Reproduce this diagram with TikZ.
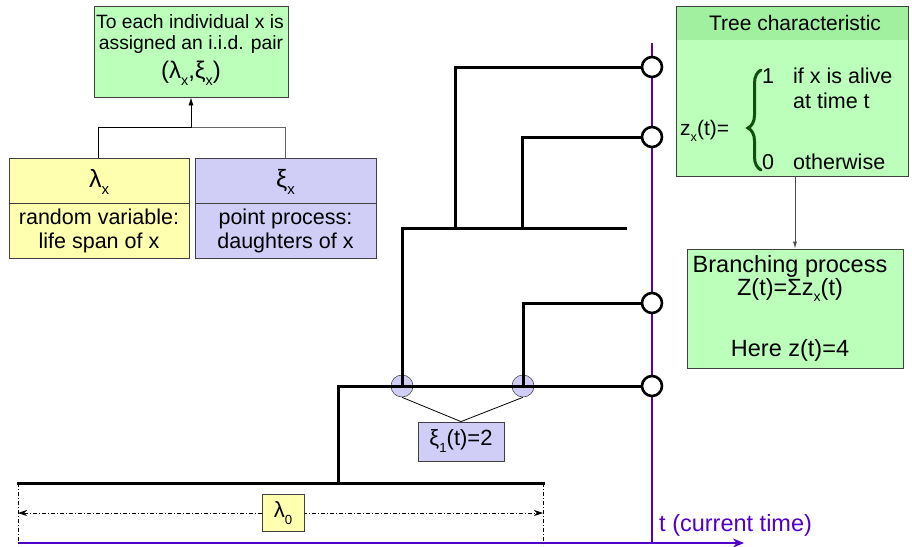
\documentclass[tikz,border=0pt]{standalone}
\usepackage{fontspec}
\setmainfont{Liberation Sans}
\usetikzlibrary{arrows.meta,decorations.pathreplacing}
\newcommand\subs[1]{\raisebox{-0.55ex}{\scalebox{0.6}{#1}}}
\definecolor{boxgreen}{RGB}{187,255,187}
\definecolor{headgreen}{RGB}{160,240,160}
\definecolor{boxyellow}{RGB}{255,255,176}
\definecolor{boxpurple}{RGB}{208,206,247}
\definecolor{axispurple}{RGB}{80,0,200}
\definecolor{bracegreen}{RGB}{15,80,15}
\tikzset{
  fbox/.style={draw=black!75, line width=0.8pt, inner sep=0pt},
  txt/.style={inner sep=0pt, font=\fontsize{19}{23}\selectfont, align=center},
  branch/.style={line width=3pt, line cap=rect},
  tip/.style={draw=black, line width=2.6pt, fill=white, circle, minimum size=20pt, inner sep=0pt},
  birth/.style={draw=black!70, line width=0.6pt, fill=boxpurple, circle, minimum size=22pt, inner sep=0pt},
  thin/.style={line width=0.8pt},
  dimline/.style={line width=0.7pt, dash pattern=on 4pt off 2pt on 1pt off 2pt}
}
\begin{document}
\begin{tikzpicture}[x=1pt,y=-1pt]
\useasboundingbox (0,0) rectangle (912,546);
% ---- top left boxes
\node[fbox, fill=boxgreen, minimum width=194pt, minimum height=91pt] (pair) at (191,51.5) {};
\node[txt, font=\fontsize{19.3}{22}\selectfont] (pairt1) at (190,22) {To each individual x is};
\node[txt, font=\fontsize{19.3}{22}\selectfont] (pairt2) at (191,45) {assigned an i.i.d. pair};
\node[txt, font=\fontsize{24}{24}\selectfont] (pairt3) at (191,73) {(λ\subs{x},ξ\subs{x})};

\node[fbox, fill=boxyellow, minimum width=180pt, minimum height=100pt] (lam) at (99,208) {};
\draw[black!75, line width=0.8pt] (9,203) -- (189,203);
\node[txt, font=\fontsize{25}{24}\selectfont] (lamt) at (99,182) {λ\subs{x}};
\node[txt, font=\fontsize{21.5}{24}\selectfont] (lamb) at (99,230.5) {random variable:\\life span of x};

\node[fbox, fill=boxpurple, minimum width=181pt, minimum height=100pt] (xi) at (285.5,208) {};
\draw[black!75, line width=0.8pt] (195,203) -- (376,203);
\node[txt, font=\fontsize{25}{24}\selectfont] (xit) at (285.5,182) {ξ\subs{x}};
\node[txt, font=\fontsize{21.5}{24}\selectfont] (xib) at (285.5,230.5) {point process:\\daughters of x};

\coordinate (jl) at (98.5,127.5);
\coordinate (jr) at (285,127.5);
\coordinate (jm) at (191,127.5);
\draw[thin] (lam.north -| jl) -- (jl) -- (jm);
\draw[thin, black!60] (jm) -- (jr) -- (xi.north -| jr);
\draw[thin, -{Latex[length=8pt,width=5pt]}] (jm) -- (pair.south);

% ---- axes
\coordinate (ax0) at (18,543);
\coordinate (ax1) at (744,543);
\coordinate (vt) at (652,43);
\coordinate (vb) at (652,543);
\draw[axispurple, line width=2.4pt, -{Stealth[length=11pt,width=9pt]}] (ax0) -- (ax1);
\draw[axispurple, line width=2.4pt] (vt) -- (vb);
\node[anchor=base west, inner sep=0pt, text=axispurple, font=\fontsize{23.5}{24}\selectfont] (tlab) at (659,531) {t (current time)};

% ---- tree
\coordinate (r0) at (18,483);
\coordinate (r1) at (543,483);
\coordinate (s1) at (338,483);
\coordinate (s1t) at (338,386);
\node[tip] (c4) at (652,386) {};
\node[tip] (c3) at (652,303) {};
\node[tip] (c2) at (652,137) {};
\node[tip] (c1) at (652,67) {};
\coordinate (b1) at (402,386);
\coordinate (b2) at (523,386);
\coordinate (g1) at (402,228);
\coordinate (g2) at (625,228);
\coordinate (h1) at (455,228);
\coordinate (h1t) at (455,67);
\coordinate (h2) at (522,228);
\coordinate (h2t) at (522,137);
\coordinate (k1t) at (523,303);

\draw[dimline] (r0) -- (18,546);
\draw[dimline] (r1) -- (543,546);
\draw[dimline, {Stealth[length=9pt,width=6pt]}-{Stealth[length=9pt,width=6pt]}] (18,513) -- (543,513);
\node[fbox, fill=boxyellow, minimum width=42pt, minimum height=37pt] (lam0) at (283,513) {};
\node[txt, font=\fontsize{22}{24}\selectfont] (lam0t) at (283,513) {λ\subs{0}};

\node[birth] (bc1) at (b1) {};
\node[birth] (bc2) at (b2) {};

\draw[branch] (r0) -- (r1);
\draw[branch] (s1) -- (s1t) -- (c4.west);
\draw[branch] (b1) -- (g1) -- (g2);
\draw[branch] (h1) -- (h1t) -- (c1.west);
\draw[branch] (h2) -- (h2t) -- (c2.west);
\draw[branch] (b2) -- (k1t) -- (c3.west);

\node[fbox, fill=boxpurple, minimum width=86pt, minimum height=39pt] (xi1) at (461,441.5) {};
\node[txt, font=\fontsize{22}{24}\selectfont] (xi1t) at (461,441) {ξ\subs{1}(t)=2};
\draw[thin] (bc1.south) -- (xi1.north);
\draw[thin] (bc2.south) -- (xi1.north);

% ---- right boxes
\node[fbox, fill=boxgreen, minimum width=232pt, minimum height=170pt] (tree) at (792,91) {};
\fill[headgreen] (676.4,6.4) rectangle (907.6,40);
\draw[black!75, line width=0.8pt] (676,6) rectangle (908,176);
\node[txt, font=\fontsize{21}{22}\selectfont] (treeh) at (795,23) {Tree characteristic};
\node[anchor=base west, inner sep=0pt, font=\fontsize{21}{22}\selectfont] (zx) at (680,135) {z\subs{x}(t)=};
\draw[bracegreen, line width=3pt, line cap=round, decorate, decoration={brace, amplitude=13pt, aspect=0.42}] (761,170) -- (761,70);
\node[anchor=base west, inner sep=0pt, font=\fontsize{21.5}{22}\selectfont] (one) at (762,83) {1};
\node[anchor=base west, inner sep=0pt, font=\fontsize{21.5}{22}\selectfont] (alive1) at (793,83) {if x is alive};
\node[anchor=base west, inner sep=0pt, font=\fontsize{21.5}{22}\selectfont] (alive2) at (793,108) {at time t};
\node[anchor=base west, inner sep=0pt, font=\fontsize{21.5}{22}\selectfont] (zero) at (762,169) {0};
\node[anchor=base west, inner sep=0pt, font=\fontsize{21.5}{22}\selectfont] (oth) at (793,169) {otherwise};

\node[fbox, fill=boxgreen, minimum width=216pt, minimum height=119pt] (bp) at (795,308.5) {};
\node[txt, font=\fontsize{23.5}{24}\selectfont] (bp1) at (790,266) {Branching process};
\node[txt, font=\fontsize{23.5}{24}\selectfont] (bp2) at (790,290) {Z(t)=Σz\subs{x}(t)};
\node[txt, font=\fontsize{23.5}{24}\selectfont] (bp3) at (790,350) {Here z(t)=4};
\draw[thin, black!70, -{Latex[length=7pt,width=4pt]}] (tree.south -| 795,0) -- (bp.north -| 795,0);
\end{tikzpicture}
\end{document}
